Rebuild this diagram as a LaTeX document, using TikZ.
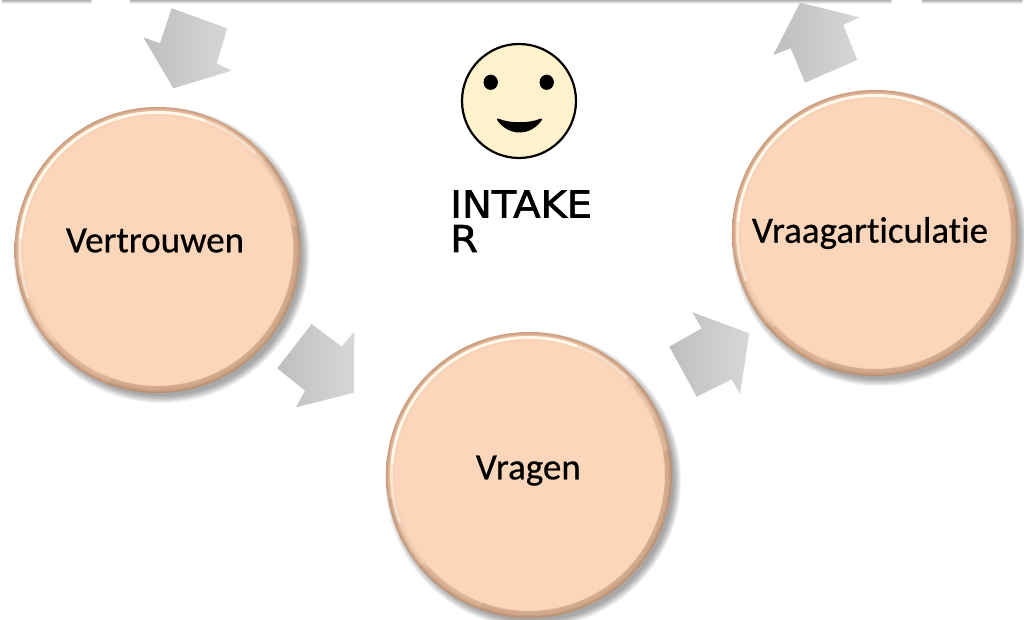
\documentclass[tikz,border=0pt]{standalone}
\usepackage{fontspec}
\setmainfont[Ligatures=NoCommon, FakeBold=0.6]{Carlito}
\newfontfamily\intakefont[FakeStretch=1.08, FakeBold=1.6]{DejaVu Sans}
\usetikzlibrary{calc}
\definecolor{peach}{RGB}{252,214,186}
\definecolor{peachmid}{RGB}{240,198,168}
\definecolor{rimedge}{RGB}{200,156,124}
\definecolor{rimdark}{RGB}{140,100,72}
\definecolor{hilite}{RGB}{255,251,238}
\definecolor{arrowA}{RGB}{190,190,190}
\definecolor{arrowB}{RGB}{215,215,215}
\definecolor{cream}{RGB}{255,242,204}
\pgfdeclareradialshading{rimshade}{\pgfpoint{0bp}{0bp}}{color(0bp)=(peach); color(23.4bp)=(peach); color(24.3bp)=(peachmid); color(25bp)=(rimedge); color(50bp)=(rimedge)}
\tikzset{
  lbl/.style={anchor=base, inner sep=0pt, font=\fontsize{37}{44}\selectfont, text=black},
  blockarrow/.style={left color=arrowA, right color=arrowB, draw=none},
  circspot/.style={circle, minimum size=286pt, inner sep=0pt},
  intk/.style={anchor=base west, inner sep=0pt, font=\intakefont\fontsize{37}{37}\selectfont},
}
\newcommand{\bevelcircle}[1]{%
  \foreach \k in {0,...,7} {\fill[black, opacity=0.05] ($(#1)+(4,-5)$) circle ({148-\k});}
  \shade[shading=rimshade] (#1) circle (143);
  \foreach \a/\b/\op in {-170/-140/0.1, -140/-110/0.22, -110/10/0.32, 10/40/0.2, 40/60/0.08}
    {\draw[rimdark, opacity=\op, line width=7] ($(#1)+(\a:139.5)$) arc (\a:\b:139.5);}
  \foreach \a/\b/\op in {25/45/0.2, 45/70/0.5, 70/175/0.95, 175/200/0.55, 200/222/0.2}
    {\draw[hilite, opacity=\op, line width=3, line cap=round] ($(#1)+(\a:137.5)$) arc (\a:\b:137.5);}
}
\begin{document}
\begin{tikzpicture}[x=1pt, y=1pt]
\useasboundingbox (0,0) rectangle (1024,620);
% top shadow strips
\foreach \xa/\xb in {0/93, 128/893, 920/1024} {
  \foreach \d/\op in {0.5/0.30, 1.5/0.22, 2.5/0.13, 3.5/0.06}
    {\draw[black, opacity=\op, line width=1, line cap=round] (\xa+2, 620-\d) -- (\xb-2, 620-\d);}
}
% circles
\coordinate (cA) at (157.5,370);
\coordinate (cB) at (529,145);
\coordinate (cC) at (875,387);
\bevelcircle{cA}
\bevelcircle{cB}
\bevelcircle{cC}
\node[circspot] (vertc) at (cA) {};
\node[circspot] (vragc) at (cB) {};
\node[circspot] (vraac) at (cC) {};
\node[lbl] (vert) at (155,367.7) {Vertrouwen};
\node[lbl] (vrag) at (528.3,140.7) {Vragen};
\node[lbl] (vraa) at (870,377.3) {Vraagarticulatie};
% block arrows
\shade[blockarrow] (171.7,611.7) -- (227.3,591.7) -- (216.7,556.7) -- (231.7,549.3) -- (173.3,531.7) -- (143.3,582.7) -- (160,576.7) -- cycle;
\shade[blockarrow] (311.7,296) -- (341.7,273.3) -- (354.3,288.3) -- (354,227.3) -- (296,212.7) -- (305,229.3) -- (277.3,251.7) -- cycle;
\shade[blockarrow] (692.3,307.7) -- (749.3,286.7) -- (740,226) -- (731.7,240.7) -- (696.7,223.3) -- (669.3,273.3) -- (701.7,291.7) -- cycle;
\shade[blockarrow] (800,617.3) -- (859.3,602.7) -- (843.3,595) -- (857.3,560) -- (805,537.3) -- (790.7,571.7) -- (773.3,565) -- cycle;
% smiley
\node[circle, draw=black, line width=2.2pt, fill=cream, minimum size=114pt, inner sep=0pt] (face) at (519,519) {};
\fill[black] (490.7,537.7) ellipse (7.2 and 7.6);
\fill[black] (546.7,537.7) ellipse (7.2 and 7.6);
\filldraw[black, line width=2, line join=round] (498,500.5) .. controls (509,484.5) and (530,484.5) .. (541,500.5) .. controls (530,495.5) and (509,495.5) .. cycle;
% intaker
\node[intk] (intake) at (450,402.5) {INTAKE};
\node[intk] (intakeR) at (450,368) {R};
\end{tikzpicture}
\end{document}
